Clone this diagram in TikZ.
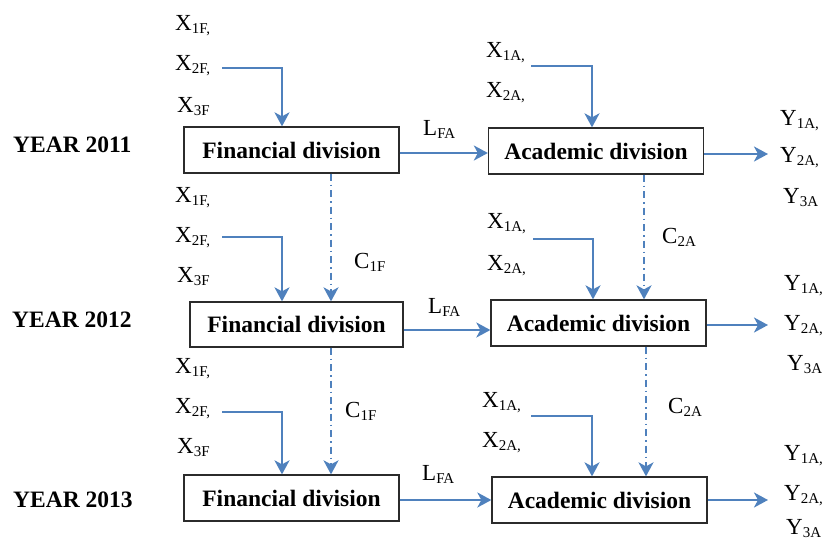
\documentclass[tikz,border=0pt]{standalone}
\usepackage{fontspec}
\setmainfont{Liberation Serif}
\usetikzlibrary{arrows.meta}
\definecolor{lineblue}{HTML}{4F81BD}
\definecolor{boxline}{HTML}{2B2B2B}
\newcommand\sbs[1]{\raisebox{-3.5pt}{\fontsize{15}{15}\selectfont #1}}
\tikzset{
  divbox/.style={draw=boxline, line width=1.3pt, minimum width=215pt, minimum height=46pt, inner sep=0pt, font=\fontsize{23.5}{27}\selectfont\bfseries},
  lab/.style={anchor=base west, inner sep=0pt, font=\fontsize{23}{27}\selectfont},
  yearlab/.style={anchor=base west, inner sep=0pt, font=\fontsize{23.5}{27}\selectfont\bfseries},
  arr/.style={draw=lineblue, line width=2.2pt, -{Stealth[length=14pt,width=15pt,inset=4pt]}},
  dd/.style={arr, dash pattern=on 7pt off 4pt on 1.5pt off 4pt},
}
\begin{document}
\begin{tikzpicture}[x=1pt,y=-1pt]
\useasboundingbox (0,0) rectangle (824,542);
% boxes
\node[divbox] (fin1) at (291.5,150) {Financial division};
\node[divbox] (acad1) at (596,151) {Academic division};
\node[divbox, minimum width=213pt, minimum height=45pt] (fin2) at (296.5,324.5) {Financial division};
\node[divbox] (acad2) at (598.5,323) {Academic division};
\node[divbox] (fin3) at (291.5,498) {Financial division};
\node[divbox] (acad3) at (599.5,500) {Academic division};
% year labels
\node[yearlab] (y2011) at (13,152) {YEAR 2011};
\node[yearlab] (y2012) at (12,327) {YEAR 2012};
\node[yearlab] (y2013) at (13,507) {YEAR 2013};
% financial inputs
\node[lab] (f1x1) at (175,30) {X\sbs{1F,}};
\node[lab] (f1x2) at (175,70) {X\sbs{2F,}};
\node[lab] (f1x3) at (177,112) {X\sbs{3F}};
\node[lab] (f2x1) at (175,202) {X\sbs{1F,}};
\node[lab] (f2x2) at (175,242) {X\sbs{2F,}};
\node[lab] (f2x3) at (177,282) {X\sbs{3F}};
\node[lab] (f3x1) at (175,373) {X\sbs{1F,}};
\node[lab] (f3x2) at (175,413) {X\sbs{2F,}};
\node[lab] (f3x3) at (177,453) {X\sbs{3F}};
% academic inputs
\node[lab] (a1x1) at (486,57) {X\sbs{1A,}};
\node[lab] (a1x2) at (486,97) {X\sbs{2A,}};
\node[lab] (a2x1) at (487,228) {X\sbs{1A,}};
\node[lab] (a2x2) at (487,270) {X\sbs{2A,}};
\node[lab] (a3x1) at (482,407) {X\sbs{1A,}};
\node[lab] (a3x2) at (482,447) {X\sbs{2A,}};
% outputs
\node[lab] (o1y1) at (780,125) {Y\sbs{1A,}};
\node[lab] (o1y2) at (780,162) {Y\sbs{2A,}};
\node[lab] (o1y3) at (783,203) {Y\sbs{3A}};
\node[lab] (o2y1) at (784,290) {Y\sbs{1A,}};
\node[lab] (o2y2) at (784,330) {Y\sbs{2A,}};
\node[lab] (o2y3) at (787,370) {Y\sbs{3A}};
\node[lab] (o3y1) at (784,460) {Y\sbs{1A,}};
\node[lab] (o3y2) at (784,500) {Y\sbs{2A,}};
\node[lab] (o3y3) at (786,534) {Y\sbs{3A}};
% link labels
\node[lab] (l1) at (423,135) {L\sbs{FA}};
\node[lab] (l2) at (428,313) {L\sbs{FA}};
\node[lab] (l3) at (422,480) {L\sbs{FA}};
\node[lab] (c1f2) at (354,268) {C\sbs{1F}};
\node[lab] (c1f3) at (345,417) {C\sbs{1F}};
\node[lab] (c2a2) at (662,243) {C\sbs{2A}};
\node[lab] (c2a3) at (668,413) {C\sbs{2A}};
% helper coordinates
\coordinate (sf1) at (222,68);
\coordinate (sf2) at (222,237);
\coordinate (sf3) at (222,412);
\coordinate (sa1) at (531,66);
\coordinate (sa2) at (533,239);
\coordinate (sa3) at (531,416);
\coordinate (bf) at (282,0);
\coordinate (ba1) at (592,0);
\coordinate (ba2) at (593,0);
\coordinate (cf) at (331,0);
\coordinate (ca1) at (644,0);
\coordinate (ca2) at (646,0);
\coordinate (e1) at (768,154);
\coordinate (e2) at (768,325);
\coordinate (e3) at (768,500);
\coordinate (h1) at (0,153);
\coordinate (h2) at (0,330);
\coordinate (h3) at (0,500);
% input arrows
\draw[arr] (sf1) -| (fin1.north -| bf);
\draw[arr] (sf2) -| (fin2.north -| bf);
\draw[arr] (sf3) -| (fin3.north -| bf);
\draw[arr] (sa1) -| (acad1.north -| ba1);
\draw[arr] (sa2) -| (acad2.north -| ba2);
\draw[arr] (sa3) -| (acad3.north -| ba1);
% link arrows
\draw[arr] (fin1.east |- h1) -- (acad1.west |- h1);
\draw[arr] (fin2.east |- h2) -- (acad2.west |- h2);
\draw[arr] (fin3.east |- h3) -- (acad3.west |- h3);
% output arrows
\draw[arr] (acad1.east |- e1) -- (e1);
\draw[arr] (acad2.east |- e2) -- (e2);
\draw[arr] (acad3.east |- e3) -- (e3);
% carry-over arrows
\draw[dd] (fin1.south -| cf) -- (fin2.north -| cf);
\draw[dd] (fin2.south -| cf) -- (fin3.north -| cf);
\draw[dd] (acad1.south -| ca1) -- (acad2.north -| ca1);
\draw[dd] (acad2.south -| ca2) -- (acad3.north -| ca2);
\end{tikzpicture}
\end{document}
